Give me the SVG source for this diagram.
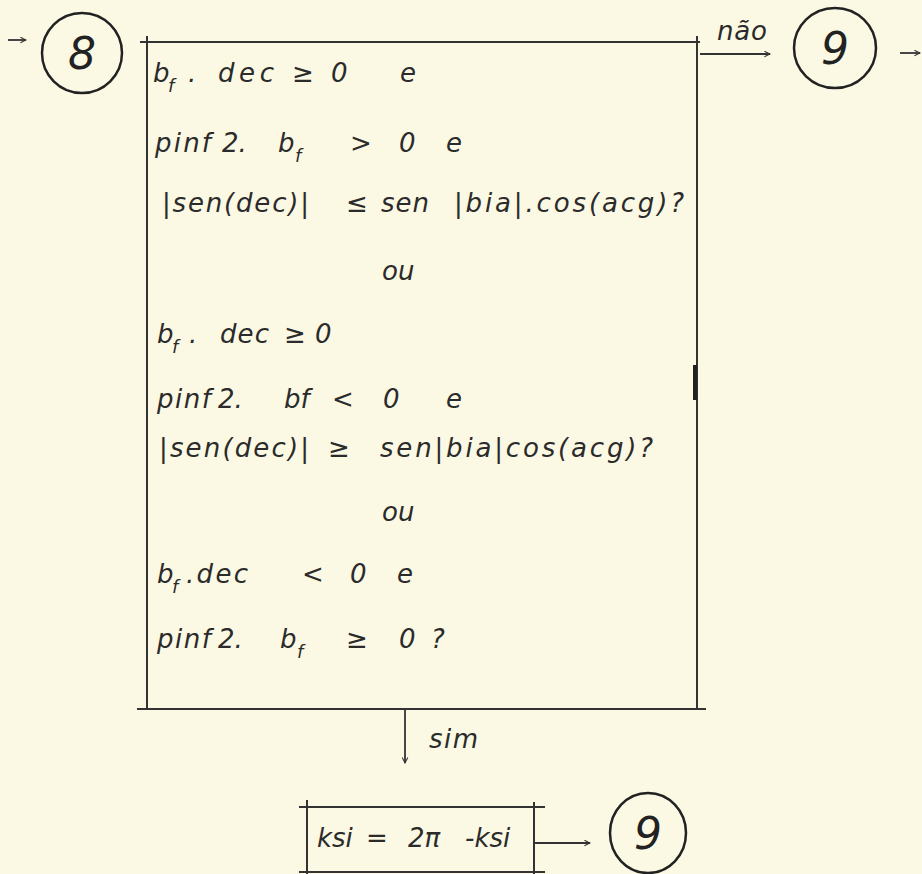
<svg xmlns="http://www.w3.org/2000/svg" width="922" height="874" viewBox="0 0 922 874">
<style>
.bg{fill:#fbf9e4}
text{font-family:"DejaVu Sans",sans-serif;font-style:italic;fill:#2b2b2b}
.t{font-size:26px}
.s{font-size:18px}
.big{font-size:44px;fill:#222}
.ln{stroke:#333;stroke-width:2;fill:none}
.c{stroke:#222;stroke-width:2.5;fill:none}
.ar{stroke:#333;stroke-width:1.8;fill:none;marker-end:url(#ah)}
</style>
<defs>
<marker id="ah" viewBox="0 0 10 10" refX="9" refY="5" markerWidth="7" markerHeight="7" markerUnits="userSpaceOnUse" orient="auto">
<path d="M1,1 L9,5 L1,9" fill="none" stroke="#333" stroke-width="1.5"/>
</marker>
</defs>
<rect class="bg" x="0" y="0" width="922" height="874"/>

<g id="n8">
<ellipse class="c" cx="82" cy="53" rx="40" ry="40"/>
<text class="big" x="82" y="69" text-anchor="middle">8</text>
</g>

<g id="decision">
<line class="ln" x1="140" y1="42" x2="700" y2="42"/>
<line class="ln" x1="147" y1="36" x2="147" y2="709"/>
<line class="ln" x1="697" y1="36" x2="697" y2="709"/>
<line class="ln" x1="137" y1="709" x2="706" y2="709"/>
<line x1="695" y1="365" x2="695" y2="400" stroke="#222" stroke-width="4"/>
<g class="t">
<text x="153" y="82">b</text><text class="s" x="168" y="92">f</text><text x="188" y="82">.</text><text x="218" y="82" textLength="56">dec</text><text x="292" y="82">≥</text><text x="331" y="82">0</text><text x="400" y="82">e</text>
<text x="155" y="152" textLength="56">pinf</text><text x="222" y="152">2.</text><text x="278" y="152">b</text><text class="s" x="295" y="162">f</text><text x="350" y="152">&gt;</text><text x="399" y="152">0</text><text x="446" y="152">e</text>
<text x="162" y="212" textLength="147">|sen(dec)|</text><text x="346" y="212">≤</text><text x="381" y="212" textLength="48">sen</text><text x="454" y="212" textLength="230">|bia|.cos(acg)?</text>
<text x="382" y="280">ou</text>
<text x="157" y="343">b</text><text class="s" x="172" y="353">f</text><text x="189" y="343">.</text><text x="220" y="343" textLength="49">dec</text><text x="284" y="343">≥</text><text x="315" y="343">0</text>
<text x="157" y="408" textLength="54">pinf</text><text x="218" y="408">2.</text><text x="284" y="408">bf</text><text x="332" y="408">&lt;</text><text x="383" y="408">0</text><text x="446" y="408">e</text>
<text x="159" y="457" textLength="150">|sen(dec)|</text><text x="328" y="457">≥</text><text x="380" y="457" textLength="273">sen|bia|cos(acg)?</text>
<text x="382" y="521">ou</text>
<text x="157" y="583">b</text><text class="s" x="172" y="593">f</text><text x="186" y="583" textLength="62">.dec</text><text x="302" y="583">&lt;</text><text x="350" y="583">0</text><text x="397" y="583">e</text>
<text x="157" y="648" textLength="54">pinf</text><text x="218" y="648">2.</text><text x="280" y="648">b</text><text class="s" x="297" y="658">f</text><text x="346" y="648">≥</text><text x="399" y="648">0</text><text x="431" y="648">?</text>
</g>
</g>

<g id="n9-top">
<ellipse class="c" cx="835" cy="48" rx="41" ry="40"/>
<text class="big" x="835" y="64" text-anchor="middle">9</text>
</g>

<g id="ksi">
<line class="ln" x1="299" y1="807" x2="545" y2="807"/>
<line class="ln" x1="307" y1="800" x2="307" y2="874"/>
<line class="ln" x1="534" y1="802" x2="534" y2="874"/>
<line class="ln" x1="299" y1="872" x2="545" y2="872"/>
<g class="t">
<text x="317" y="847">ksi</text><text x="366" y="847">=</text><text x="408" y="847">2π</text><text x="465" y="847">-ksi</text>
</g>
</g>

<g id="n9-bottom">
<ellipse class="c" cx="648" cy="833" rx="38" ry="40"/>
<text class="big" x="648" y="849" text-anchor="middle">9</text>
</g>

<g id="connectors">
<line class="ar" x1="8" y1="40" x2="26" y2="40"/>
<line class="ar" x1="700" y1="54" x2="770" y2="54"/>
<text class="t" x="717" y="40" textLength="50">não</text>
<line class="ar" x1="900" y1="53" x2="920" y2="53"/>
<line class="ar" x1="405" y1="709" x2="405" y2="763"/>
<text class="t" x="429" y="748" textLength="49">sim</text>
<line class="ar" x1="534" y1="843" x2="590" y2="843"/>
</g>
</svg>
